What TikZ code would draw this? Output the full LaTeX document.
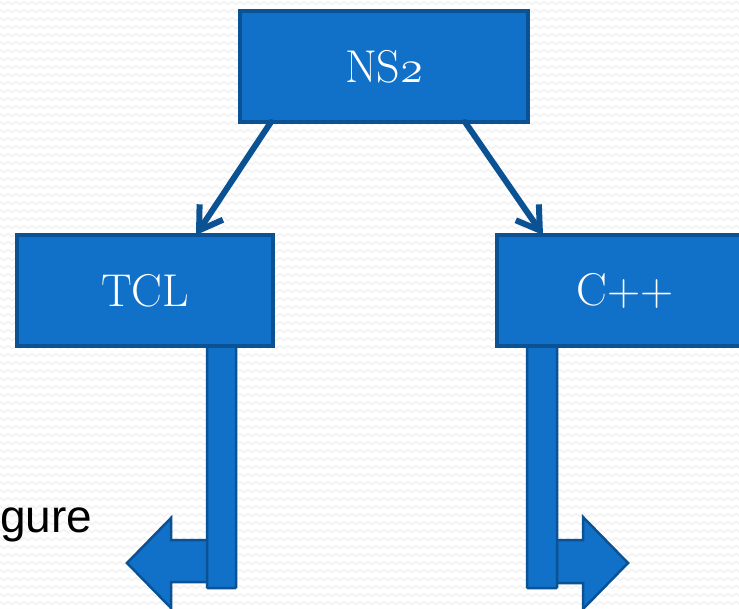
\documentclass[tikz,border=0pt]{standalone}
\usepackage{fix-cm}
\usepackage{fontspec}
\newfontfamily\arialfont{Liberation Sans}
\usetikzlibrary{arrows.meta,decorations.pathmorphing}
\definecolor{boxfill}{RGB}{17,112,199}
\definecolor{boxline}{RGB}{10,82,148}
\definecolor{zigcol}{RGB}{240,240,240}
\newcommand{\osnum}[1]{{\usefont{OML}{cmm}{m}{it}#1}}
\tikzset{
  blockbox/.style={draw=boxline, fill=boxfill, line width=3.5pt, text=white,
    inner sep=0pt, outer sep=0pt, font=\fontsize{46}{50}\selectfont},
  conn/.style={draw=boxline, line width=6pt, line cap=round,
    -{Straight Barb[length=22pt,width=28pt,line width=6pt]}},
  bentarrow/.style={draw=boxline, fill=boxfill, line width=2.5pt, line join=miter},
  barshape/.style={draw=boxline, fill=boxfill, line width=2.5pt, rounded corners=1pt},
}
\begin{document}
\begin{tikzpicture}[x=1pt,y=-1pt]
  \useasboundingbox (0,0) rectangle (739,608);
  \fill[white] (0,0) rectangle (739,608);
  \begin{scope}
    \clip (0,0) rectangle (739,608);
    \foreach \j in {0,...,76}
      \draw[zigcol, line width=1.2pt, decorate,
        decoration={zigzag,segment length=8pt,amplitude=1.6pt}]
        (-10,\j*8+3) -- (760,\j*8+3);
  \end{scope}

  % nodes
  \node[blockbox, minimum width=288pt, minimum height=111pt] (ns2) at (384,66.5) {NS\osnum{2}};
  \node[blockbox, minimum width=256pt, minimum height=111pt] (tcl) at (145,290.5) {TCL};
  \node[blockbox, minimum width=256pt, minimum height=111pt] (cpp) at (625,290.5) {C++};

  % connectors
  \draw[conn] ([xshift=31pt]ns2.south west) -- ([xshift=179pt]tcl.north west);
  \draw[conn] ([xshift=225pt]ns2.south west) -- ([xshift=46pt]cpp.north west);

  % bent arrows (left)
  \draw[bentarrow] (214,540) -- (171,540) -- (171,518) -- (127,563) -- (171,608) -- (171,582) -- (214,582) -- cycle;
  \draw[barshape] (207,346) rectangle (236,588);
  % bent arrows (right)
  \draw[bentarrow] (550,540) -- (583,540) -- (583,517) -- (628,563) -- (583,609) -- (583,583) -- (550,583) -- cycle;
  \draw[barshape] (527,346) rectangle (557,588);

  % redraw boxes on top of bars
  \node[blockbox, minimum width=256pt, minimum height=111pt] (tcltop) at (145,290.5) {TCL};
  \node[blockbox, minimum width=256pt, minimum height=111pt] (cpptop) at (625,290.5) {C++};

  % cut-off text
  \node[anchor=base west, inner sep=0pt, font=\arialfont\fontsize{46}{50}\selectfont] (gure) at (0,532) {gure};
\end{tikzpicture}
\end{document}
